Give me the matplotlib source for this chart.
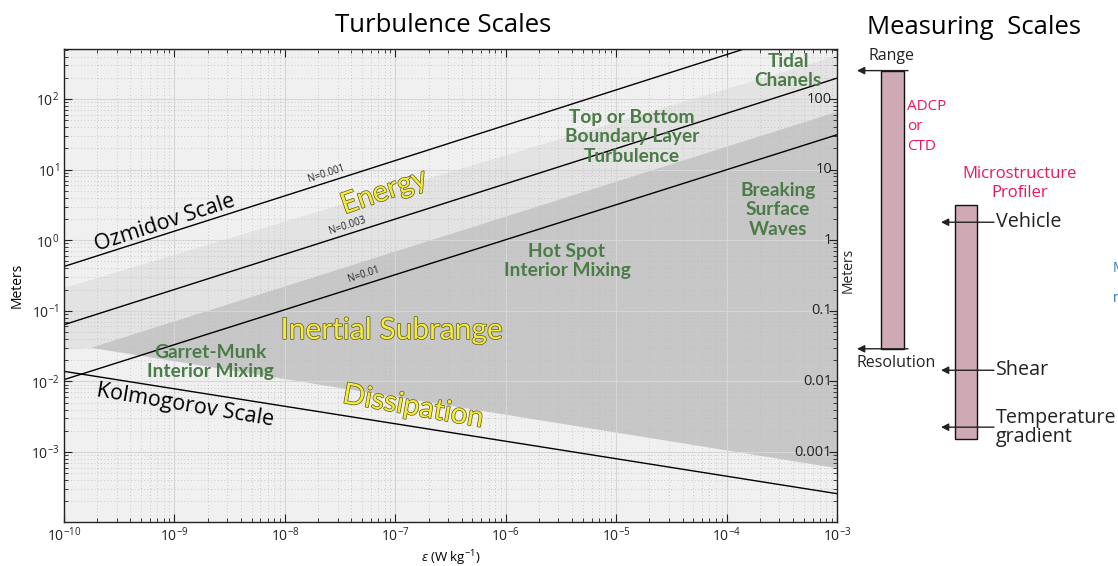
import matplotlib
matplotlib.use('Agg')
import matplotlib.pyplot as plt
import matplotlib.patheffects as pe
from matplotlib import font_manager
from matplotlib.ticker import LogLocator, NullFormatter, FixedLocator
from matplotlib.transforms import blended_transform_factory


def font_ok(name):
    try:
        font_manager.findfont(font_manager.FontProperties(family=name), fallback_to_default=False)
        return True
    except Exception:
        return False


BASE = 'Open Sans' if font_ok('Open Sans') else 'DejaVu Sans'
NARROW = 'Lato' if font_ok('Lato') else BASE
plt.rcParams['font.family'] = [BASE, 'DejaVu Sans']
plt.rcParams['mathtext.fontset'] = 'custom'
plt.rcParams['mathtext.rm'] = BASE
plt.rcParams['mathtext.it'] = BASE + ':italic'

# ---------------- data ----------------
eps_limits = [1e-10, 1e-3]
meter_limits = [1.03e-4, 5.07e2]

line_eps = [1e-10, 1e-3]
ozmidov_N0001 = [0.425, 1350.0]
ozmidov_N0003 = [0.0636, 198.0]
ozmidov_N001 = [0.0106, 31.2]
kolmogorov = [0.0139, 2.57e-4]
line_labels = ['N=0.001', 'N=0.003', 'N=0.01']

energy_eps = [1e-10, 1e-3, 1e-3, 1.75e-10, 1e-10]
energy_m = [0.21, 410.0, 66.0, 0.030, 0.028]
inertial_eps = [1.75e-10, 1e-3, 1e-3]
inertial_m = [0.030, 66.0, 5.9e-4]

right_tick_values = [100, 10, 1, 0.1, 0.01, 0.001]
right_tick_labels = ['100', '10', '1', '0.1', '0.01', '0.001']

instruments = ['ADCP or CTD', 'Microstructure Profiler']
instr_top = [253.0, 3.15]
instr_bottom = [0.029, 1.55e-3]
micro_marks = ['Vehicle', 'Shear', 'Temperature\ngradient']
micro_mark_m = [1.8, 0.0144, 2.25e-3]

# ---------------- figure ----------------
W, H = 1118, 566
fig = plt.figure(figsize=(W / 100, H / 100), dpi=100)
fig.patch.set_facecolor('white')

ax_l, ax_r, ax_t, ax_b = 64, 837, 49.3, 521.7
ax = fig.add_axes([ax_l / W, 1 - ax_b / H, (ax_r - ax_l) / W, (ax_b - ax_t) / H])
ax.set_xscale('log')
ax.set_yscale('log')
ax.set_xlim(eps_limits)
ax.set_ylim(meter_limits)
ax.set_facecolor('#f0f0f0')

ax.fill(energy_eps, energy_m, color='#e3e3e3', lw=0, zorder=1)
ax.fill(inertial_eps, inertial_m, color='#c7c7c7', lw=0, zorder=1.5)

for ys in (ozmidov_N0001, ozmidov_N0003, ozmidov_N001, kolmogorov):
    ax.plot(line_eps, ys, color='black', lw=1.0, zorder=3)

ax.xaxis.set_major_locator(LogLocator(base=10, numticks=20))
ax.xaxis.set_minor_locator(LogLocator(base=10, subs=range(2, 10), numticks=100))
ax.xaxis.set_minor_formatter(NullFormatter())
ax.yaxis.set_major_locator(FixedLocator([1e-3, 1e-2, 1e-1, 1, 10, 100]))
ax.yaxis.set_minor_locator(LogLocator(base=10, subs=range(2, 10), numticks=100))
ax.yaxis.set_minor_formatter(NullFormatter())
ax.tick_params(which='both', direction='in', top=True, right=True, labelsize=10, colors='#222222')
ax.tick_params(which='major', length=6, width=0.8)
ax.tick_params(which='minor', length=3, width=0.6)
ax.grid(which='major', color='#d6d6d6', lw=0.8, zorder=2)
ax.grid(which='minor', color='#bcbcbc', lw=0.6, ls=(0, (1, 3)), zorder=2)
ax.set_axisbelow(False)
for s in ax.spines.values():
    s.set_color('#222222')
    s.set_linewidth(1.0)
    s.set_zorder(4)

ax.set_xlabel(r'$\it{\epsilon}$ (W kg$^{-1}$)', fontsize=9.5, labelpad=2)
ax.set_ylabel('Meters', fontsize=10, labelpad=4)

btr = blended_transform_factory(ax.transAxes, ax.transData)
for v, lab in zip(right_tick_values, right_tick_labels):
    ax.text(0.9935, v, lab, transform=btr, ha='right', va='center', fontsize=10.5, color='#222222', zorder=5)


def fx(px):
    return (px - ax_l) / (ax_r - ax_l)


def fy(py):
    return (ax_b - py) / (ax_b - ax_t)


def atext(px, py, s, **kw):
    kw.setdefault('ha', 'center')
    kw.setdefault('va', 'center')
    kw.setdefault('transform', ax.transAxes)
    kw.setdefault('zorder', 6)
    kw.setdefault('rotation_mode', 'anchor')
    return ax.text(fx(px), fy(py), s, **kw)


atext(165, 223, 'Ozmidov Scale', fontsize=15.5, rotation=18, color='black')
atext(185, 405, 'Kolmogorov Scale', fontsize=15.5, rotation=-9.5, color='black')
for (px, py), lab in zip([(326, 174), (347, 226), (364, 275)], line_labels):
    atext(px, py, lab, fontsize=7, rotation=18, color='#222222')

yellow = dict(color='#f2ea3c', family=[NARROW, 'DejaVu Sans'], fontweight='normal',
              path_effects=[pe.withStroke(linewidth=1.0, foreground='#5e5a1c')])
atext(384, 192, 'Energy', fontsize=21, rotation=19, **yellow)
atext(392, 330, 'Inertial Subrange', fontsize=21.5, **yellow)
atext(413, 407, 'Dissipation', fontsize=21, rotation=-10, **yellow)

green = dict(color='#4b7b47', fontweight='bold', family=[NARROW, 'DejaVu Sans'],
             linespacing=1.2, fontsize=13.8)
atext(632, 137, 'Top or Bottom\nBoundary Layer\nTurbulence', **green)
atext(788, 71, 'Tidal\nChanels', **green)
atext(778, 210, 'Breaking\nSurface\nWaves', **green)
atext(567, 261, 'Hot Spot\nInterior Mixing', **green)
atext(210, 362, 'Garret-Munk\nInterior Mixing', **green)

fig.text(848 / W, 1 - 270 / H, 'Meters', rotation=90, ha='center', va='center', fontsize=10, color='#222222')
fig.text(443 / W, 1 - 25 / H, 'Turbulence Scales', ha='center', va='center', fontsize=18.5, color='black')
fig.text(974 / W, 1 - 27 / H, 'Measuring  Scales', ha='center', va='center', fontsize=18.5, color='black')

# ---------------- measuring scales panel ----------------
p_l = 845
ax2 = fig.add_axes([p_l / W, 1 - ax_b / H, (W - p_l) / W, (ax_b - ax_t) / H])
ax2.set_yscale('log')
ax2.set_ylim(meter_limits)
ax2.set_xlim(p_l, W)
ax2.axis('off')

bar_x = [892.5, 966]
bar_w = [23, 22]
heights = [t - b for t, b in zip(instr_top, instr_bottom)]
ax2.bar(bar_x, heights, bottom=instr_bottom, width=bar_w, color='#cfa9b3', edgecolor='#111111', lw=1.0, zorder=2)

arrow_kw = dict(arrowstyle='-|>', color='#222222', lw=1.0, mutation_scale=11, shrinkA=0, shrinkB=0)
ax2.annotate('', xy=(857, instr_top[0]), xytext=(908, instr_top[0]), arrowprops=arrow_kw, zorder=3)
ax2.annotate('', xy=(857, instr_bottom[0]), xytext=(908, instr_bottom[0]), arrowprops=arrow_kw, zorder=3)
ax2.text(892, instr_top[0] * 1.25, 'Range', ha='center', va='bottom', fontsize=11.5, color='#222222')
ax2.text(896, instr_bottom[0] / 1.22, 'Resolution', ha='center', va='top', fontsize=11.5, color='#222222')

crimson = '#e8185a'
ax2.text(907, 10 ** 2.0, 'ADCP\nor\nCTD', ha='left', va='top', fontsize=11, color=crimson, linespacing=1.45)
ax2.text(1020, 10 ** 0.8, 'Microstructure\nProfiler', ha='center', va='center', fontsize=12, color=crimson, linespacing=1.25)

for lab, m in zip(micro_marks, micro_mark_m):
    ax2.annotate('', xy=(941, m), xytext=(994, m), arrowprops=arrow_kw, zorder=3)
    ax2.text(996, m, lab, ha='left', va='center', fontsize=14.2, color='#222222', linespacing=0.95)

fig.text(1113 / W, 1 - 268 / H, 'M', ha='left', va='center', fontsize=10, color='#2a6fad')
fig.text(1113 / W, 1 - 298 / H, 'm', ha='left', va='center', fontsize=10, color='#2a6fad')

fig.savefig('out.png', dpi=100, facecolor='white')
